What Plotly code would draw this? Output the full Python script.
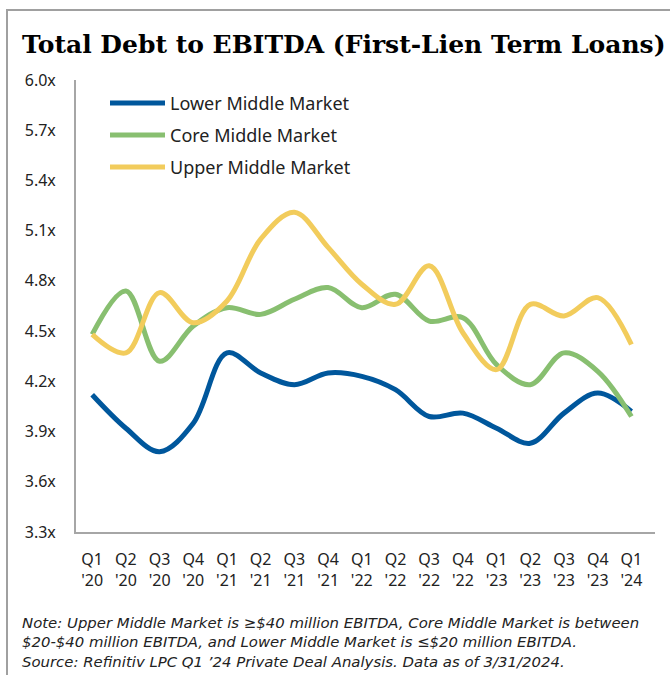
import plotly.graph_objects as go

# Quarterly periods
quarters = ["Q1<br>'20", "Q2<br>'20", "Q3<br>'20", "Q4<br>'20",
            "Q1<br>'21", "Q2<br>'21", "Q3<br>'21", "Q4<br>'21",
            "Q1<br>'22", "Q2<br>'22", "Q3<br>'22", "Q4<br>'22",
            "Q1<br>'23", "Q2<br>'23", "Q3<br>'23", "Q4<br>'23",
            "Q1<br>'24"]

# Total debt / EBITDA multiples by segment
lower_mm = [4.12, 3.92, 3.78, 3.95, 4.37, 4.25, 4.18, 4.25, 4.23,
            4.15, 3.99, 4.01, 3.92, 3.83, 4.01, 4.13, 4.02]
core_mm = [4.48, 4.74, 4.32, 4.53, 4.64, 4.60, 4.69, 4.76, 4.64,
           4.72, 4.56, 4.58, 4.30, 4.18, 4.37, 4.26, 3.99]
upper_mm = [4.48, 4.37, 4.73, 4.55, 4.68, 5.05, 5.21, 5.00, 4.78,
            4.66, 4.89, 4.49, 4.27, 4.66, 4.59, 4.70, 4.42]

series_names = ["Lower Middle Market", "Core Middle Market", "Upper Middle Market"]
series_values = [lower_mm, core_mm, upper_mm]
series_colors = ["#00579C", "#88BF70", "#F2CC5C"]

y_ticks = [3.3, 3.6, 3.9, 4.2, 4.5, 4.8, 5.1, 5.4, 5.7, 6.0]
y_tick_labels = [f"{v:.1f}x" for v in y_ticks]

title_text = "Total Debt to EBITDA (First-Lien Term Loans)"
note_lines = [
    "Note: Upper Middle Market is \u2265$40 million EBITDA, Core Middle Market is between",
    "$20-$40 million EBITDA, and Lower Middle Market is \u2264$20 million EBITDA.",
    "Source: Refinitiv LPC Q1 \u201924 Private Deal Analysis. Data as of 3/31/2024.",
]

W, H = 670, 675
ML, MR, MT, MB = 76, 15, 80, 143
PW, PH = W - ML - MR, H - MT - MB


def px_x(px):
    return (px - ML) / PW


def px_y(py):
    return (H - MB - py) / PH


fig = go.Figure()
for name, vals, col in zip(series_names, series_values, series_colors):
    fig.add_trace(go.Scatter(
        x=quarters, y=vals, name=name, mode="lines",
        line=dict(color=col, width=5, shape="spline", smoothing=1.0),
        showlegend=False,
    ))

axis_col = "#A6A6A6"
text_font = "Noto Sans, Open Sans, sans-serif"
text_col = "#222222"

fig.update_layout(
    width=W, height=H,
    margin=dict(l=ML, r=MR, t=MT, b=MB),
    paper_bgcolor="white", plot_bgcolor="white",
    font=dict(family=text_font, size=16, color=text_col),
    xaxis=dict(
        type="category", range=[-0.48, 16.7],
        showgrid=False, zeroline=False,
        showline=True, linecolor=axis_col, linewidth=2,
        ticks="", tickfont=dict(size=16, color=text_col),
        ticklabelstandoff=12,
    ),
    yaxis=dict(
        range=[3.3, 6.0], tickvals=y_ticks, ticktext=y_tick_labels,
        showgrid=False, zeroline=False,
        showline=True, linecolor=axis_col, linewidth=2,
        ticks="", tickfont=dict(size=16, color=text_col),
        ticklabelstandoff=15,
    ),
)

shapes = []
annotations = []

# outer frame
shapes.append(dict(type="rect", xref="paper", yref="paper",
                   x0=px_x(7), x1=px_x(720), y0=px_y(720), y1=px_y(10),
                   line=dict(color="#A0A0A0", width=2), fillcolor="rgba(0,0,0,0)",
                   layer="below"))

# legend entries
leg_y = [103, 135, 167]
for name, col, ly in zip(series_names, series_colors, leg_y):
    shapes.append(dict(type="line", xref="paper", yref="paper",
                       x0=px_x(110), x1=px_x(165), y0=px_y(ly), y1=px_y(ly),
                       line=dict(color=col, width=5)))
    annotations.append(dict(xref="paper", yref="paper", x=px_x(168), y=px_y(ly),
                            xanchor="left", yanchor="middle", showarrow=False,
                            text=name, font=dict(size=18, color=text_col)))

# title
annotations.append(dict(xref="paper", yref="paper", x=px_x(20), y=px_y(45),
                        xanchor="left", yanchor="middle", showarrow=False,
                        text="<b>" + title_text + "</b>",
                        font=dict(family="DejaVu Serif, serif", size=25, color="#000000")))

# footnote (single block, left aligned)
annotations.append(dict(xref="paper", yref="paper", x=px_x(20), y=px_y(642),
                        xanchor="left", yanchor="middle", align="left",
                        showarrow=False,
                        text="<br>".join("<i>" + ln + "</i>" for ln in note_lines),
                        font=dict(family="DejaVu Sans, sans-serif", size=14.9,
                                  color=text_col)))

fig.update_layout(shapes=shapes, annotations=annotations)

fig.write_html("out.html")
